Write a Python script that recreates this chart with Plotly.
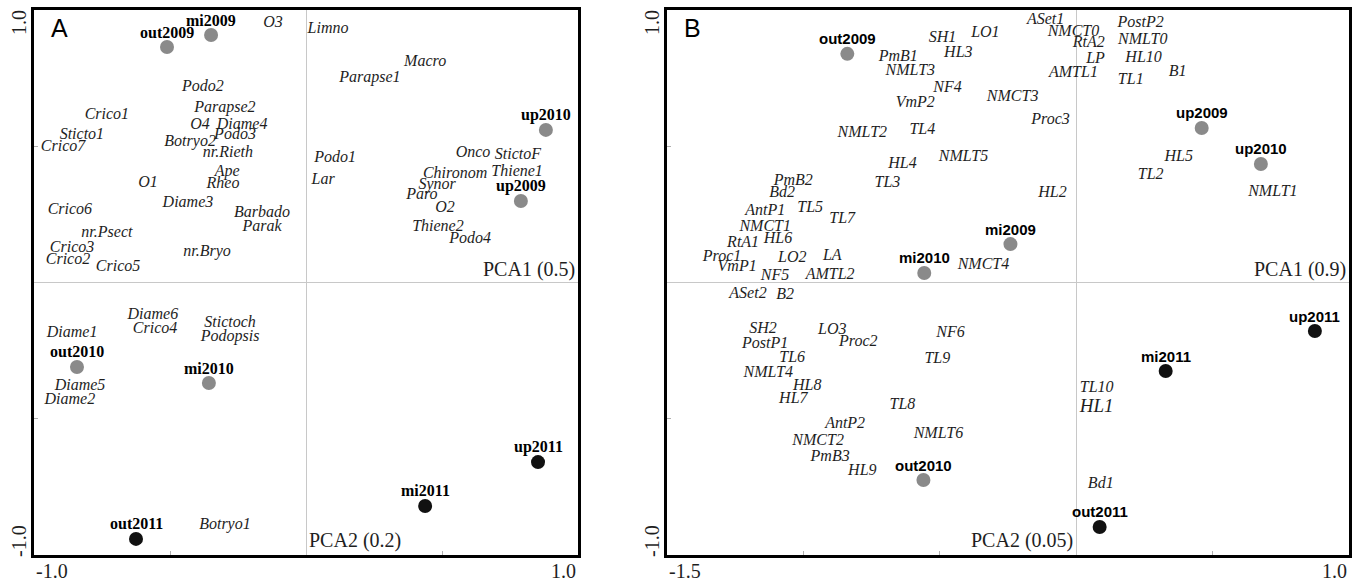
import plotly.graph_objects as go

# ---------------- Panel A data ----------------
a_species = ["O3", "Limno", "Macro", "Parapse1", "Podo2", "Parapse2", "Crico1", "O4", "Diame4",
             "Sticto1", "Podo3", "Botryo2", "Crico7", "nr.Rieth", "Onco", "StictoF", "Podo1", "Ape",
             "Thiene1", "Chironom", "Lar", "O1", "Rheo", "Synor", "Paro", "Diame3", "O2", "Crico6",
             "Barbado", "Parak", "Thiene2", "nr.Psect", "Podo4", "Crico3", "nr.Bryo", "Crico2",
             "Crico5", "Diame6", "Stictoch", "Crico4", "Diame1", "Podopsis", "Diame5", "Diame2",
             "Botryo1"]
a_species_x = [-0.121, 0.081, 0.438, 0.235, -0.379, -0.298, -0.732, -0.390, -0.235,
               -0.824, -0.261, -0.426, -0.893, -0.287, 0.614, 0.779, 0.107, -0.290,
               0.776, 0.548, 0.063, -0.581, -0.305, 0.482, 0.426, -0.434, 0.511, -0.868,
               -0.162, -0.162, 0.485, -0.732, 0.603, -0.860, -0.364, -0.875,
               -0.691, -0.563, -0.279, -0.555, -0.860, -0.279, -0.831, -0.868,
               -0.298]
a_species_y = [0.952, 0.930, 0.809, 0.750, 0.717, 0.640, 0.615, 0.578, 0.578,
               0.541, 0.541, 0.516, 0.497, 0.475, 0.475, 0.468, 0.457, 0.406,
               0.406, 0.398, 0.376, 0.365, 0.361, 0.358, 0.321, 0.292, 0.273, 0.266,
               0.255, 0.204, 0.204, 0.182, 0.160, 0.127, 0.112, 0.083,
               0.057, -0.119, -0.149, -0.171, -0.185, -0.200, -0.380, -0.431,
               -0.890]

a_sites = ["out2009", "mi2009", "up2009", "out2010", "mi2010", "up2010", "out2011", "mi2011", "up2011"]
a_site_x = [-0.511, -0.349, 0.790, -0.842, -0.357, 0.882, -0.625, 0.438, 0.853]
a_site_y = [0.864, 0.908, 0.299, -0.310, -0.369, 0.560, -0.941, -0.820, -0.659]
a_site_year = [2009, 2009, 2009, 2010, 2010, 2010, 2011, 2011, 2011]

# ---------------- Panel B data ----------------
b_species = ["ASet1", "PostP2", "NMCT0", "LO1", "SH1", "NMLT0", "RtA2", "HL3", "PmB1", "HL10",
             "LP", "NMLT3", "B1", "AMTL1", "TL1", "NF4", "NMCT3", "VmP2", "Proc3", "TL4",
             "NMLT2", "HL5", "NMLT5", "HL4", "TL2", "PmB2", "TL3", "NMLT1", "HL2", "Bd2",
             "TL5", "AntP1", "TL7", "NMCT1", "HL6", "RtA1", "LA", "Proc1", "LO2", "NMCT4",
             "VmP1", "AMTL2", "NF5", "ASet2", "B2", "SH2", "LO3", "NF6", "Proc2", "PostP1",
             "TL6", "TL9", "NMLT4", "HL8", "TL10", "HL7", "TL8", "AntP2", "NMLT6",
             "NMCT2", "PmB3", "HL9", "Bd1"]
b_species_x = [-0.112, 0.236, -0.010, -0.333, -0.490, 0.244, 0.046, -0.432, -0.652, 0.247,
               0.071, -0.608, 0.372, -0.010, 0.200, -0.472, -0.233, -0.590, -0.094, -0.564,
               -0.784, 0.376, -0.413, -0.637, 0.273, -1.037, -0.692, 0.721, -0.087, -1.078,
               -0.975, -1.140, -0.858, -1.140, -1.093, -1.221, -0.894, -1.298, -1.041, -0.340,
               -1.243, -0.902, -1.104, -1.203, -1.067, -1.148, -0.894, -0.461, -0.799, -1.140,
               -1.041, -0.509, -1.129, -0.986, 0.075, -1.037, -0.637, -0.847, -0.505,
               -0.946, -0.902, -0.784, 0.090]
b_species_y = [0.963, 0.952, 0.919, 0.916, 0.897, 0.890, 0.879, 0.842, 0.828, 0.824,
               0.820, 0.776, 0.772, 0.769, 0.743, 0.714, 0.681, 0.659, 0.596, 0.560,
               0.549, 0.461, 0.461, 0.435, 0.394, 0.372, 0.365, 0.332, 0.328, 0.328,
               0.273, 0.262, 0.233, 0.204, 0.160, 0.145, 0.097, 0.094, 0.090, 0.064,
               0.057, 0.028, 0.024, -0.042, -0.046, -0.171, -0.174, -0.185, -0.218, -0.226,
               -0.277, -0.281, -0.332, -0.380, -0.387, -0.428, -0.450, -0.519, -0.556,
               -0.582, -0.640, -0.692, -0.739]
b_big = ["HL1"]
b_big_x = [0.075]
b_big_y = [-0.457]

b_sites = ["out2009", "mi2009", "up2009", "out2010", "mi2010", "up2010", "out2011", "mi2011", "up2011"]
b_site_x = [-0.839, -0.241, 0.460, -0.560, -0.557, 0.677, 0.086, 0.328, 0.875]
b_site_y = [0.839, 0.141, 0.567, -0.725, 0.035, 0.435, -0.897, -0.325, -0.178]
b_site_year = [2009, 2009, 2009, 2010, 2010, 2010, 2011, 2011, 2011]

year_color = {2009: "#8a8a8a", 2010: "#8a8a8a", 2011: "#111111"}

SERIF = "Liberation Serif"
SANS = "Liberation Sans"
TXT = "#1e1e1e"

fig = go.Figure()

# Panel A
fig.add_trace(go.Scatter(x=a_species_x, y=a_species_y, text=a_species, mode="text",
                         textposition="middle center",
                         textfont=dict(family=SERIF, size=16, color=TXT, style="italic"),
                         xaxis="x", yaxis="y", hoverinfo="skip", showlegend=False))
fig.add_trace(go.Scatter(x=a_site_x, y=a_site_y, mode="markers",
                         marker=dict(size=14, color=[year_color[v] for v in a_site_year]),
                         xaxis="x", yaxis="y", hoverinfo="skip", showlegend=False))

# Panel B
fig.add_trace(go.Scatter(x=b_species_x, y=b_species_y, text=b_species, mode="text",
                         textposition="middle center",
                         textfont=dict(family=SERIF, size=16, color=TXT, style="italic"),
                         xaxis="x2", yaxis="y2", hoverinfo="skip", showlegend=False))
fig.add_trace(go.Scatter(x=b_big_x, y=b_big_y, text=b_big, mode="text",
                         textposition="middle center",
                         textfont=dict(family=SERIF, size=19, color=TXT, style="italic"),
                         xaxis="x2", yaxis="y2", hoverinfo="skip", showlegend=False))
fig.add_trace(go.Scatter(x=b_site_x, y=b_site_y, mode="markers",
                         marker=dict(size=14, color=[year_color[v] for v in b_site_year]),
                         xaxis="x2", yaxis="y2", hoverinfo="skip", showlegend=False))

W, H = 1361, 583
axis_common = dict(showgrid=False, zeroline=True, zerolinecolor="#c8c8c8", zerolinewidth=1,
                   showline=True, mirror=True, linecolor="#000", linewidth=2.5,
                   ticks="inside", ticklen=4, tickcolor="#b0b0b0", showticklabels=False,
                   fixedrange=True)

fig.update_layout(
    width=W, height=H,
    margin=dict(l=0, r=0, t=10, b=28),
    paper_bgcolor="white", plot_bgcolor="white",
    xaxis=dict(domain=[34 / W, 578 / W], range=[-1, 1], tickvals=[-0.5, 0.5], anchor="y", **axis_common),
    yaxis=dict(domain=[0, 1], range=[-1, 1], tickvals=[-0.5, 0.5], anchor="x", **axis_common),
    xaxis2=dict(domain=[667 / W, 1349 / W], range=[-1.5, 1.0], tickvals=[-1.0, -0.5, 0.5], anchor="y2", **axis_common),
    yaxis2=dict(domain=[0, 1], range=[-1, 1], tickvals=[-0.5, 0.5], anchor="x2", **axis_common),
)

ann = []
# site labels (bold) just above each site point
for xa, ya, names, xs, ys, fam in [("x", "y", a_sites, a_site_x, a_site_y, SERIF),
                                   ("x2", "y2", b_sites, b_site_x, b_site_y, SANS)]:
    for n, xv, yv in zip(names, xs, ys):
        ann.append(dict(text="<b>%s</b>" % n, xref=xa, yref=ya, x=xv, y=yv,
                        xanchor="center", yanchor="middle", yshift=15, showarrow=False,
                        font=dict(family=fam, size=16 if fam == SERIF else 15, color="#000")))

for xa, ya, letter, xmin, xmax, pca1, pca2, pca2_right in [
        ("x", "y", "A", "-1.0", "1.0", "PCA1 (0.5)", "PCA2 (0.2)", False),
        ("x2", "y2", "B", "-1.5", "1.0", "PCA1 (0.9)", "PCA2 (0.05)", True)]:
    dom_x = xa + " domain"
    dom_y = ya + " domain"
    tf = dict(family=SERIF, size=20, color=TXT)
    # panel letter
    ann.append(dict(text=letter, xref=dom_x, yref=dom_y, x=0, y=1, xanchor="left", yanchor="top",
                    xshift=15, yshift=-2, showarrow=False, font=dict(family=SANS, size=25, color="#000")))
    # y end labels (rotated)
    ann.append(dict(text="1.0", xref=dom_x, yref=dom_y, x=0, y=1, xanchor="center", yanchor="middle",
                    xshift=-15, yshift=-13, textangle=-90, showarrow=False, font=tf))
    ann.append(dict(text="-1.0", xref=dom_x, yref=dom_y, x=0, y=0, xanchor="center", yanchor="middle",
                    xshift=-15, yshift=14, textangle=-90, showarrow=False, font=tf))
    # x end labels
    ann.append(dict(text=xmin, xref=dom_x, yref=dom_y, x=0, y=0, xanchor="left", yanchor="top",
                    yshift=-3, showarrow=False, font=tf))
    ann.append(dict(text=xmax, xref=dom_x, yref=dom_y, x=1, y=0, xanchor="right", yanchor="top",
                    yshift=-3, showarrow=False, font=tf))
    # PCA labels
    ann.append(dict(text=pca1, xref=dom_x, yref=ya, x=1, y=0, xanchor="right", yanchor="bottom",
                    xshift=-1, showarrow=False, font=tf))
    ann.append(dict(text=pca2, xref=xa, yref=dom_y, x=0, y=0,
                    xanchor="right" if pca2_right else "left", yanchor="bottom",
                    xshift=-1 if pca2_right else 1, yshift=1, showarrow=False, font=tf))

fig.update_layout(annotations=ann)

fig.write_html("out.html", config={"displayModeBar": False},
               post_script="document.body.style.margin='0';document.body.style.padding='0';")
